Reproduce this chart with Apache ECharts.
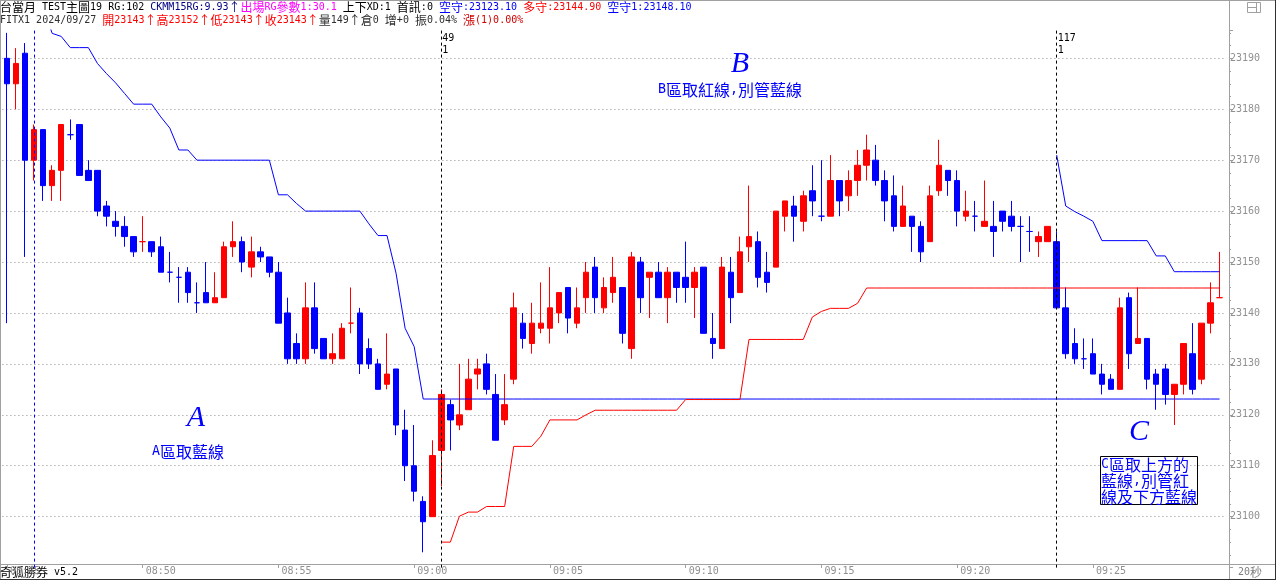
<!DOCTYPE html>
<html>
<head>
<meta charset="utf-8">
<script src="https://cdn.jsdelivr.net/npm/echarts@6/dist/echarts.min.js"></script>
<style>
html,body{margin:0;padding:0;background:#ffffff;}
#chart{width:1276px;height:580px;}
</style>
</head>
<body>
<div id="chart"></div>
<script>
// ---------------- data ----------------
const sessionStart = '08:45:00';
const barSeconds = 20;

const opens = [
23190,23185,23191,23170,23176,23165,23168,23175,23177,23168,
23168,23161,23158,23157,23155,23154,23154,23153,23148,23147,
23148,23142,23144,23142,23143,23153,23154,23149,23152,23151,
23148,23140,23134,23131,23141,23135,23131,23131,23138,23140,
23133,23130,23126,23129,23117,23110,23103,23100,23113,23122,
23118,23121,23128,23130,23124,23119,23127,23138,23134,23137,
23137,23140,23145,23138,23143,23149,23141,23144,23145,23133,
23150,23147,23148,23143,23148,23147,23145,23149,23135,23133,
23148,23144,23153,23154,23148,23149,23159,23161,23158,23164,
23159,23159,23166,23163,23166,23169,23170,23166,23163,23157,
23159,23157,23154,23164,23168,23166,23159,23159,23157,23157,
23160,23159,23157,23156,23154,23154,23154,23141,23134,23131,
23132,23128,23127,23125,23143,23134,23135,23128,23129,23124,
23126,23132,23127,23138,23143];

const closes = [
23185,23189,23170,23176,23165,23168,23177,23175,23167,23166,
23160,23159,23157,23155,23152,23154,23152,23148,23148,23147,
23144,23142,23142,23143,23153,23154,23150,23152,23151,23148,
23138,23131,23131,23141,23133,23131,23132,23137,23138,23130,
23130,23125,23128,23118,23110,23105,23099,23112,23124,23119,
23120,23127,23129,23125,23115,23122,23141,23135,23138,23138,
23141,23144,23139,23141,23148,23143,23145,23147,23136,23151,
23143,23148,23143,23148,23145,23145,23148,23136,23134,23149,
23143,23152,23155,23147,23146,23160,23162,23159,23163,23162,
23159,23166,23162,23166,23169,23172,23166,23162,23157,23161,
23157,23152,23163,23169,23166,23160,23160,23159,23158,23156,
23158,23157,23157,23156,23155,23157,23141,23132,23131,23131,
23128,23126,23125,23141,23132,23135,23127,23126,23124,23126,
23134,23125,23138,23142,23143];

const lows = [
23138,23180,23151,23166,23162,23162,23162,23174,23167,23166,
23159,23157,23155,23153,23151,23152,23151,23148,23146,23142,
23142,23140,23142,23142,23143,23151,23148,23147,23150,23147,
23138,23130,23130,23130,23132,23131,23130,23131,23136,23128,
23129,23125,23125,23116,23107,23103,23093,23100,23106,23113,
23117,23121,23125,23124,23115,23118,23126,23133,23132,23136,
23134,23138,23136,23137,23140,23140,23140,23142,23134,23131,
23140,23139,23143,23138,23142,23142,23139,23136,23131,23133,
23138,23144,23150,23145,23144,23149,23156,23154,23156,23159,
23158,23159,23159,23160,23163,23166,23165,23158,23156,23157,
23152,23150,23154,23163,23163,23157,23158,23156,23157,23151,
23156,23156,23150,23152,23151,23154,23141,23131,23130,23129,
23128,23124,23125,23125,23129,23134,23125,23121,23122,23118,
23124,23124,23126,23136,23143];

const highs = [
23195,23192,23193,23177,23176,23169,23177,23178,23177,23170,
23168,23162,23160,23159,23155,23159,23154,23155,23152,23149,
23149,23146,23150,23148,23154,23158,23155,23155,23153,23151,
23150,23143,23136,23146,23146,23135,23136,23138,23145,23141,
23135,23131,23136,23129,23121,23118,23104,23115,23125,23123,
23130,23131,23131,23132,23128,23128,23144,23140,23142,23146,
23149,23144,23145,23145,23150,23151,23147,23151,23145,23152,
23151,23148,23150,23149,23148,23154,23149,23149,23140,23151,
23151,23155,23165,23156,23152,23160,23162,23163,23164,23169,
23170,23171,23166,23168,23172,23175,23173,23168,23167,23165,
23159,23158,23165,23174,23168,23168,23164,23162,23166,23162,
23160,23162,23159,23159,23156,23157,23156,23145,23137,23135,
23135,23130,23128,23143,23144,23145,23135,23129,23130,23126,
23134,23138,23138,23146,23152];

// 空守 (short stop, blue), one value per bar
const shortStop = [
23212,23208,23205,23203,23200,23194.9,23194.3,23192.1,23192.1,23192.1,
23189.0,23187.0,23185.2,23183.1,23181.0,23181.0,23181.0,23178.5,23176.3,23172.0,
23172.0,23170.0,23170.0,23170.0,23170.0,23170.0,23170.0,23170.0,23170.0,23170.0,
23163.2,23163.2,23161.5,23160.0,23160.0,23160.0,23160.0,23160.0,23160.0,23160.0,
23157.5,23155.2,23155.2,23147.8,23137.0,23133.4,23123.1,23123.1,23123.1,23123.1,
23123.1,23123.1,23123.1,23123.1,23123.1,23123.1,23123.1,23123.1,23123.1,23123.1,
23123.1,23123.1,23123.1,23123.1,23123.1,23123.1,23123.1,23123.1,23123.1,23123.1,
23123.1,23123.1,23123.1,23123.1,23123.1,23123.1,23123.1,23123.1,23123.1,23123.1,
23123.1,23123.1,23123.1,23123.1,23123.1,23123.1,23123.1,23123.1,23123.1,23123.1,
23123.1,23123.1,23123.1,23123.1,23123.1,23123.1,23123.1,23123.1,23123.1,23123.1,
23123.1,23123.1,23123.1,23123.1,23123.1,23123.1,23123.1,23123.1,23123.1,23123.1,
23123.1,23123.1,23123.1,23123.1,23123.1,23123.1,23123.1,23123.1,23123.1,23123.1,
23123.1,23123.1,23123.1,23123.1,23123.1,23123.1,23123.1,23123.1,23123.1,23123.1,
23123.1,23123.1,23123.1,23123.1,23123.1];

// 多守 (long stop, red), starts at bar 49
const longStopStartBar = 49;
const longStop = [
23095.0,23095.0,23100.1,23100.9,23100.9,23102.0,23102.0,23102.0,23113.8,23113.8,
23113.8,23115.8,23119.0,23119.0,23119.0,23119.0,23120.0,23120.9,23120.9,23120.9,
23120.9,23120.9,23120.9,23120.9,23120.9,23120.9,23120.9,23123.0,23123.0,23123.0,
23123.0,23123.0,23123.0,23123.0,23134.8,23134.8,23134.8,23134.8,23134.8,23134.8,
23134.8,23139.2,23140.3,23140.9,23140.9,23140.9,23141.9,23144.9,23144.9,23144.9,
23144.9,23144.9,23144.9,23144.9,23144.9,23144.9,23144.9,23144.9,23144.9,23144.9,
23144.9,23144.9,23144.9,23144.9,23144.9,23144.9,23144.9,23144.9,23144.9,23144.9,
23144.9,23144.9,23144.9,23144.9,23144.9,23144.9,23144.9,23144.9,23144.9,23144.9,
23144.9,23144.9,23144.9,23144.9,23144.9,23144.9,23144.9];

// 空守1 (second short stop, blue), starts at bar 117
const shortStop1StartBar = 117;
const shortStop1 = [
23171.0,23161.0,23159.9,23159.0,23158.0,23154.2,23154.2,23154.2,23154.2,23154.2,
23154.2,23151.2,23151.2,23148.1,23148.1,23148.1,23148.1,23148.1,23148.1];

const markerBars = [49, 117];
const markerTexts = ['49\n1', '117\n1'];
const blueMarkerBar = 4;

const priceLabelMin = 23100;
const priceLabelMax = 23190;

const headerLine1 = [
  ['台當月 TEST主圖19 RG:102 ', '#000000'],
  ['CKMM15RG:9.93↑', '#000080'],
  ['出場RG參數1:30.1', '#ff00ff'],
  [' 上下XD:1 首訊:0 ', '#000000'],
  ['空守:23123.10', '#0000ff'],
  [' 多守:23144.90', '#ff0000'],
  [' 空守1:23148.10', '#0000ff']
];
const headerLine2 = [
  ['FITX1 2024/09/27 ', '#303030'],
  ['開23143↑高23152↑低23143↑收23143↑', '#ff0000'],
  ['量149↑倉0 增+0 振0.04% ', '#303030'],
  ['漲(1)0.00%', '#d00000']
];

// ---------------- build ----------------
const UP = '#ff0000', DOWN = '#0000ff';
const MONO = 'DejaVu Sans Mono';
const CJK = 'Noto Sans CJK TC';
const pad2 = n => (n < 10 ? '0' : '') + n;
const categories = (() => {
  const p = sessionStart.split(':').map(Number);
  const t0 = p[0] * 3600 + p[1] * 60 + p[2];
  return opens.map((_, i) => {
    const t = t0 + i * barSeconds;
    return pad2(Math.floor(t / 3600)) + ':' + pad2(Math.floor(t / 60) % 60) + ':' + pad2(t % 60);
  });
})();
const isLabelTick = v => v.endsWith(':00') && (+v.slice(3, 5)) % 5 === 0;

const kData = opens.map((o, i) => {
  const c = closes[i];
  const item = { value: [o, c, lows[i], highs[i]] };
  if (o === c) {
    const col = (i > 0 && c > closes[i - 1]) ? UP : DOWN;
    item.itemStyle = { color: col, color0: col, borderColor: col, borderColor0: col, borderColorDoji: col };
  }
  return item;
});
const padSeries = (start, arr) => opens.map((_, i) => {
  const j = i - (start - 1);
  return (j >= 0 && j < arr.length) ? arr[j] : null;
});

function richText(lines, small) {
  const rich = {};
  let n = 0;
  const out = lines.map(segs => {
    let s = '';
    segs.forEach(([txt, col]) => {
      const re = /[\x20-\x7e]+|[^\x20-\x7e]+/g;
      let m;
      while ((m = re.exec(txt)) !== null) {
        const ascii = /^[\x20-\x7e]/.test(m[0]);
        const key = 't' + (n++);
        rich[key] = {
          fill: col,
          fontFamily: ascii ? MONO : CJK,
          fontSize: ascii ? (small ? 10 : 13.3) : (small ? 12 : 16),
          lineHeight: small ? 13 : 16
        };
        s += '{' + key + '|' + m[0] + '}';
      }
    });
    return s;
  });
  return { text: out.join('\n'), rich };
}

const h1 = richText([headerLine1], true);
const h2 = richText([headerLine2], true);
const annA = richText([[['A區取藍線', '#0000ff']]], false);
const annB = richText([[['B區取紅線,別管藍線', '#0000ff']]], false);
const annC = richText([[['C區取上方的', '#0000ff']], [['藍線,別管紅', '#0000ff']], [['線及下方藍線', '#0000ff']]], false);
const foot = richText([[['奇狐勝券 v5.2', '#000000']]], true);
const secs = richText([[['20秒', '#808080']]], true);

const markerLineData = markerBars.map((b, k) => ({
  xAxis: categories[b - 1],
  lineStyle: { color: '#000000', type: [3, 3], width: 1 },
  label: {
    show: true, position: 'end', formatter: markerTexts[k], color: '#000000',
    fontFamily: MONO, fontSize: 10, lineHeight: 12, align: 'left', verticalAlign: 'top',
    distance: -2, padding: [0, 0, 0, 1]
  }
}));
markerLineData.push({
  xAxis: categories[blueMarkerBar - 1],
  lineStyle: { color: '#0000ff', type: [3, 3], width: 1 },
  label: { show: false }
});

const bigLetter = (ch, x, y) => ({
  type: 'text', x, y, silent: true,
  style: { text: ch, font: 'italic 30px "Liberation Serif"', fill: '#0000ff', align: 'center', verticalAlign: 'middle' }
});
const richEl = (r, x, y, align, vAlign) => ({
  type: 'text', x, y, silent: true,
  style: { text: r.text, rich: r.rich, align: align, verticalAlign: vAlign }
});
const line = (x1, y1, x2, y2, color) => ({
  type: 'line', silent: true, shape: { x1, y1, x2, y2 }, style: { stroke: color, lineWidth: 1 }
});

const chart = echarts.init(document.getElementById('chart'));
chart.setOption({
  animation: false,
  backgroundColor: '#ffffff',
  grid: { left: 2.4, right: 51.9, top: 30, bottom: 12.4, containLabel: false },
  xAxis: {
    type: 'category', data: categories, boundaryGap: true, offset: -3.6,
    axisLine: { show: true, lineStyle: { color: '#a0a0a0', width: 1 } },
    axisTick: { show: true, alignWithLabel: true, interval: (i, v) => isLabelTick(v), length: 4, lineStyle: { color: '#a0a0a0' } },
    axisLabel: {
      show: true, interval: (i, v) => isLabelTick(v), formatter: v => v.slice(0, 5),
      align: 'left', padding: [0, 0, 0, 3], margin: 2, color: '#909090', fontFamily: MONO, fontSize: 10
    },
    splitLine: { show: false }
  },
  yAxis: {
    type: 'value', position: 'right', offset: 4.9, min: 23090, max: 23195.56, interval: 10,
    axisLine: { show: true, lineStyle: { color: '#a0a0a0', width: 1 } },
    axisTick: { show: true, length: 4, lineStyle: { color: '#a0a0a0' } },
    minorTick: { show: true, splitNumber: 4, length: 2, lineStyle: { color: '#a0a0a0' } },
    axisLabel: {
      color: '#909090', fontFamily: MONO, fontSize: 10, margin: 1,
      showMinLabel: false, showMaxLabel: false,
      formatter: v => (v < priceLabelMin - 0.5 || v > priceLabelMax + 0.5) ? '' : String(Math.round(v))
    },
    splitLine: { show: true, showMinLine: false, showMaxLine: false, lineStyle: { color: '#909090', type: [1, 3], width: 1 } },
    minorSplitLine: { show: false }
  },
  series: [
    {
      name: 'K', type: 'candlestick', data: kData, barWidth: 6, clip: true,
      itemStyle: { color: UP, color0: DOWN, borderColor: UP, borderColor0: DOWN, borderColorDoji: DOWN, borderWidth: 1 },
      markLine: { silent: true, symbol: ['none', 'none'], animation: false, data: markerLineData }
    },
    {
      name: '空守', type: 'line', data: shortStop, symbol: 'none', clip: true,
      lineStyle: { color: '#0000ff', width: 1 }, connectNulls: false
    },
    {
      name: '多守', type: 'line', data: padSeries(longStopStartBar, longStop), symbol: 'none', clip: true,
      lineStyle: { color: '#ff0000', width: 1 }, connectNulls: false
    },
    {
      name: '空守1', type: 'line', data: padSeries(shortStop1StartBar, shortStop1), symbol: 'none', clip: true,
      lineStyle: { color: '#0000ff', width: 1 }, connectNulls: false
    }
  ],
  graphic: [
    line(0, 0.5, 1276, 0.5, '#a0a0a0'),
    line(0.5, 0, 0.5, 580, '#a0a0a0'),
    line(1229.5, 0, 1229.5, 580, '#a0a0a0'),
    line(0, 564.5, 1276, 564.5, '#a0a0a0'),
    line(0, 579.5, 1276, 579.5, '#303030'),
    line(1275.5, 0, 1275.5, 580, '#303030'),
    { type: 'rect', silent: true, shape: { x: 1247.5, y: 2.5, width: 13, height: 10 }, style: { fill: 'none', stroke: '#a0a0a0', lineWidth: 1 } },
    line(1256.5, 2.5, 1256.5, 12.5, '#a0a0a0'),
    line(1247.5, 7.5, 1256.5, 7.5, '#a0a0a0'),
    richEl(h1, 0, 1, 'left', 'top'),
    richEl(h2, 0, 14, 'left', 'top'),
    richEl(foot, 0, 566, 'left', 'top'),
    richEl(secs, 1238, 566, 'left', 'top'),
    bigLetter('A', 196, 418),
    richEl(annA, 188, 452, 'center', 'middle'),
    bigLetter('B', 740, 64),
    richEl(annB, 730, 90, 'center', 'middle'),
    bigLetter('C', 1139, 432),
    { type: 'rect', silent: true, shape: { x: 1100.5, y: 456.5, width: 97, height: 48 }, style: { fill: '#ffffff', stroke: '#000000', lineWidth: 1 } },
    richEl(annC, 1101, 457, 'left', 'top')
  ]
});
</script>
</body>
</html>
